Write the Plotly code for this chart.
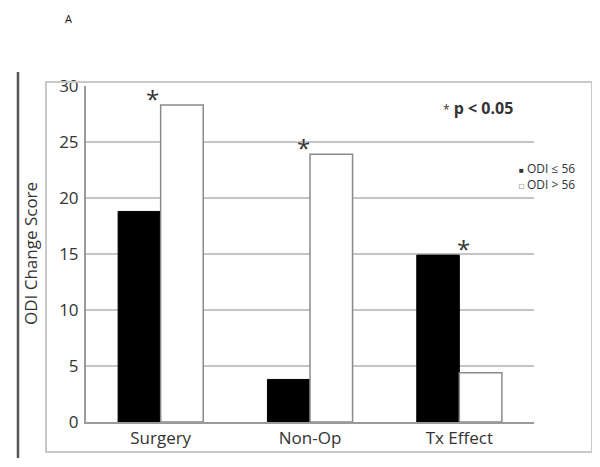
import plotly.graph_objects as go

# -------------------------
# DATA
# -------------------------
categories = ["Surgery", "Non-Op", "Tx Effect"]
odi_low = [18.8, 3.8, 14.9]     # ODI <= 56
odi_high = [28.3, 23.9, 4.4]    # ODI > 56
low_name = "ODI ≤ 56"
high_name = "ODI > 56"
significant = [True, True, True]
star_shift = [-8, -7, 4]
y_ticks = [0, 5, 10, 15, 20, 25, 30]

FONT = "Open Sans"
GRID = "#c4c4c4"
TEXT = "#333333"

fig = go.Figure()
fig.add_trace(go.Bar(
    x=categories, y=odi_low, name=low_name,
    marker=dict(color="#000000", line=dict(color="#000000", width=1)),
))
fig.add_trace(go.Bar(
    x=categories, y=odi_high, name=high_name,
    marker=dict(color="#ffffff", line=dict(color="#8a8a8a", width=1.5)),
))

# significance stars above each pair
for cat, lo, hi, sig, sh in zip(categories, odi_low, odi_high, significant, star_shift):
    if sig:
        fig.add_annotation(
            x=cat, y=max(lo, hi), text="*", showarrow=False,
            yanchor="bottom", xshift=sh, yshift=-12,
            font=dict(family=FONT, size=24, color=TEXT),
        )

# legend drawn as small text entries (one block, two lines)
fig.add_annotation(
    xref="paper", yref="paper", x=0.962, y=0.732, xanchor="left", yanchor="middle",
    align="left",
    text="<span style='font-size:8px'>■</span> " + low_name
         + "<br><span style='font-size:8px'>□</span> " + high_name,
    showarrow=False,
    font=dict(family=FONT, size=12, color=TEXT),
)

# p-value note
fig.add_annotation(
    xref="paper", yref="paper", x=0.958, y=0.935, xanchor="right", yanchor="middle",
    text="<span style='font-size:12px;font-weight:normal'>*</span> <b>p < 0.05</b>",
    showarrow=False, font=dict(family=FONT, size=16, color=TEXT),
)

# y axis title
fig.add_annotation(
    xref="paper", yref="paper", x=-0.125, y=0.5, textangle=-90,
    xanchor="center", yanchor="middle",
    text="ODI Change Score", showarrow=False,
    font=dict(family=FONT, size=17, color=TEXT),
)

# panel letter
fig.add_annotation(
    xref="paper", yref="paper", x=-0.04, y=1.2, text="A", showarrow=False,
    xanchor="center", yanchor="middle",
    font=dict(family=FONT, size=11, color="#111111"),
)

# outer frame and left rule
fig.add_shape(type="rect", xref="paper", yref="paper",
              x0=-0.0893, x1=1.1295, y0=-0.0893, y1=1.0119,
              line=dict(color="#c8c8c8", width=2))
fig.add_shape(type="line", xref="paper", yref="paper",
              x0=-0.1518, x1=-0.1518, y0=-0.1071, y1=1.0417,
              line=dict(color="#555555", width=2.5))

# page body adds an 8px offset, so margins are shifted to compensate
fig.update_layout(
    width=600, height=467,
    margin=dict(l=78, r=74, t=78, b=53),
    paper_bgcolor="white", plot_bgcolor="white",
    barmode="group", bargap=0.43, bargroupgap=0,
    showlegend=False,
    font=dict(family=FONT, color=TEXT),
)
fig.update_xaxes(
    showline=True, linecolor="#9a9a9a", linewidth=2,
    showgrid=False, ticks="", tickfont=dict(size=17, color=TEXT),
)
fig.update_yaxes(
    range=[0, 30], tickvals=y_ticks, showline=True, linecolor="#9a9a9a", linewidth=2,
    showgrid=True, gridcolor=GRID, gridwidth=1.5, zeroline=False,
    ticks="", tickfont=dict(size=17, color=TEXT), ticklabelstandoff=2,
)

fig.write_html("out.html")
